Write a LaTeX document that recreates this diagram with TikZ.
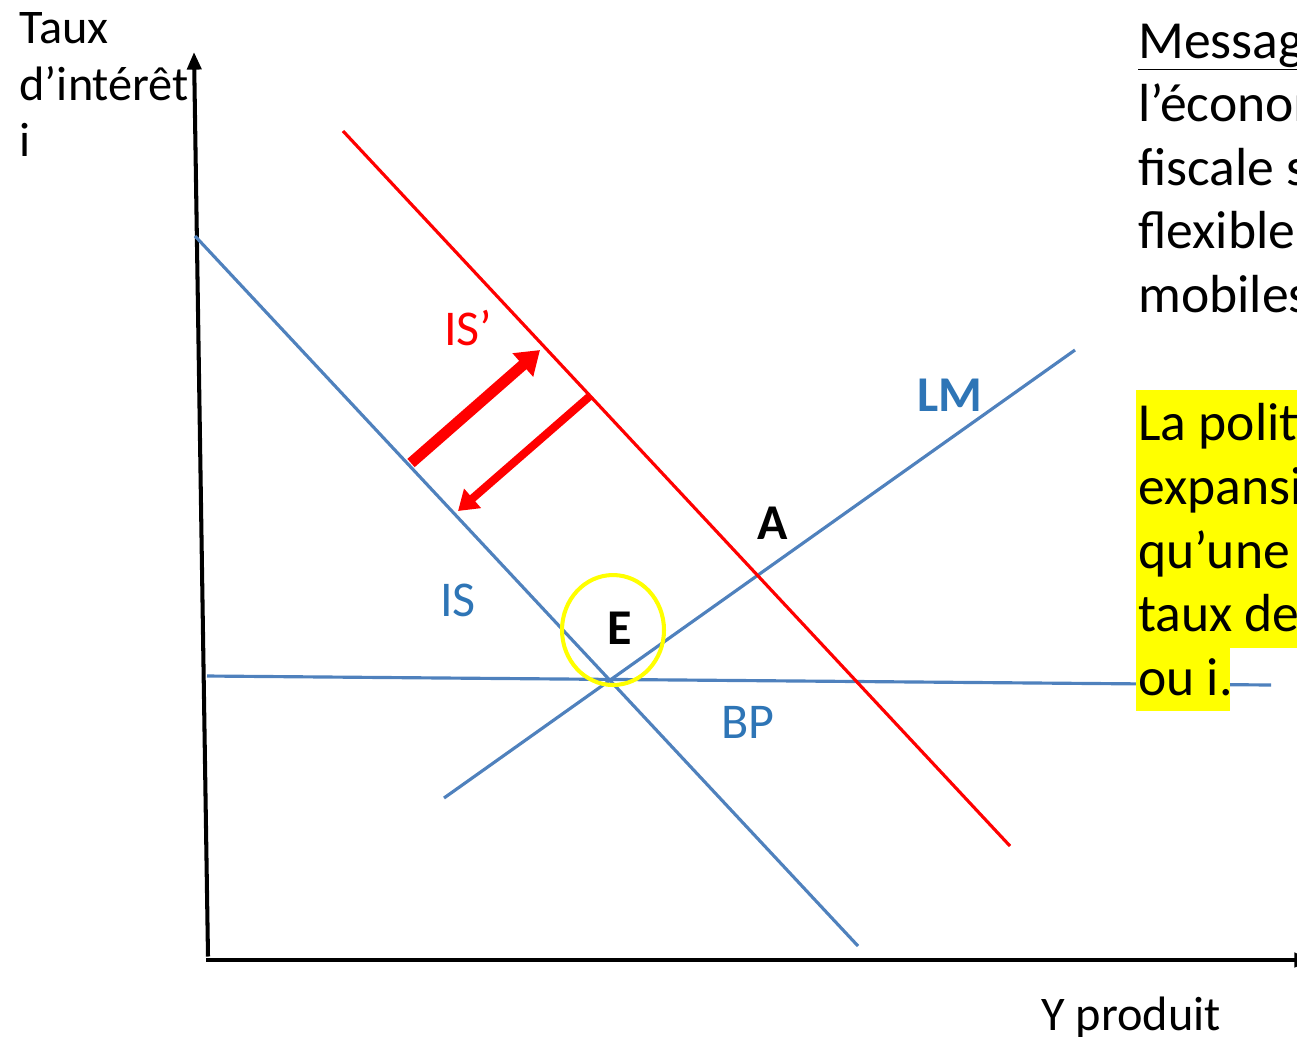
\documentclass[tikz,border=0pt]{standalone}
\usepackage{fontspec}
\setmainfont{Carlito}
\usetikzlibrary{arrows.meta, positioning, shapes.geometric}
\definecolor{CurveBlue}{HTML}{4F81BD}
\definecolor{LabelBlue}{HTML}{2E75B6}
\definecolor{ShiftRed}{HTML}{FF0000}
\definecolor{MarkYellow}{HTML}{FFFF00}
\tikzset{
    % axes
    axis/.style={
        line width=2.3pt,
        draw=black,
        -{Triangle[length=10pt,width=8pt]}
    },
    % curves
    curve/.style={
        line width=1.8pt,
        draw=CurveBlue
    },
    shifted/.style={
        line width=1.8pt,
        draw=ShiftRed
    },
    % shift arrows
    bigarrow/.style={
        line width=6.3pt,
        draw=ShiftRed,
        -{Triangle[length=13pt,width=17pt]}
    },
    backarrow/.style={
        line width=4.6pt,
        draw=ShiftRed,
        -{Triangle[length=11pt,width=14pt]}
    },
    ring/.style={
        ellipse,
        draw=MarkYellow,
        line width=2.3pt,
        minimum width=2.04cm,
        minimum height=2.2cm,
        inner sep=0pt
    },
    % texts
    axislabel/.style={
        font=\fontsize{27.5}{32.3}\selectfont,
        align=left,
        anchor=north west,
        inner sep=0pt
    },
    curvelabel/.style={
        font=\fontsize{28.5}{32}\selectfont,
        text=LabelBlue,
        inner sep=0pt
    },
    pointlabel/.style={
        font=\fontsize{28.5}{32}\selectfont\bfseries,
        inner sep=0pt
    },
    notetext/.style={
        font=\fontsize{30.5}{36.3}\selectfont,
        anchor=base west,
        inner sep=0pt
    }
}
\begin{document}
\begin{tikzpicture}[x=0.02cm, y=-0.02cm]
    \useasboundingbox (0,0) rectangle (1297,1036);
    \clip (0,0) rectangle (1297,1036);

    % axes
    \coordinate (origin) at (208,960);
    \coordinate (ytop) at (194,52);
    \coordinate (xend) at (1312,960);
    \draw[axis] ([yshift=2pt]origin) -- (ytop);
    \draw[axis] ([xshift=-1pt]origin) -- (xend);

    \node[axislabel] (ylab) at (19,12) {Taux\\d’intérêt\\i};
    \node[notetext, font=\fontsize{27.5}{32}\selectfont] (xlab) at (1041,1030) {Y produit};

    % curves
    \coordinate (is-a) at (195,236);
    \coordinate (is-b) at (858,946);
    \coordinate (isp-a) at (343,131);
    \coordinate (isp-b) at (1010,846);
    \coordinate (lm-a) at (444,798);
    \coordinate (lm-b) at (1075,350);
    \coordinate (bp-a) at (207,676);
    \coordinate (bp-b) at (1271,685);

    \draw[curve] (bp-a) -- (bp-b);
    \draw[curve] (is-a) -- (is-b);
    \draw[curve] (lm-a) -- (lm-b);
    \draw[shifted] (isp-a) -- (isp-b);

    % shift arrows
    \coordinate (up-a) at (411,463);
    \coordinate (up-b) at (540,350);
    \coordinate (down-a) at (590,396);
    \coordinate (down-b) at (458,511);
    \draw[bigarrow] (up-a) -- (up-b);
    \draw[backarrow] (down-a) -- (down-b);

    % equilibrium
    \node[ring] (eq) at (613,630) {};

    \node[curvelabel, text=ShiftRed] (isp-lab) at (468,328) {IS’};
    \node[curvelabel, font=\fontsize{28.5}{32}\selectfont\bfseries] (lm-lab) at (950,395) {LM};
    \node[curvelabel] (is-lab) at (458,600) {IS};
    \node[curvelabel] (bp-lab) at (748,722) {BP};
    \node[pointlabel] (a-lab) at (773,523) {A};
    \node[pointlabel] (e-lab) at (620,628) {E};

    % message (cut at the right edge)
    \node[notetext] (msg1) at (1138,58) {\underline{Message :}};
    \node[notetext] (msg2) at (1138,121) {l’économie};
    \node[notetext] (msg3) at (1138,185) {fiscale sous};
    \node[notetext] (msg4) at (1138,248) {flexible et};
    \node[notetext] (msg5) at (1138,312) {mobiles};

    \fill[MarkYellow] (1136,390) rectangle (1297,648);
    \fill[MarkYellow] (1136,648) rectangle (1230,711);
    \node[notetext] (hl1) at (1138,440) {La politique};
    \node[notetext] (hl2) at (1138,504) {expansionniste};
    \node[notetext] (hl3) at (1138,568) {qu’une hausse};
    \node[notetext] (hl4) at (1138,631) {taux de change};
    \node[notetext] (hl5) at (1138,695) {ou i.};
\end{tikzpicture}
\end{document}
